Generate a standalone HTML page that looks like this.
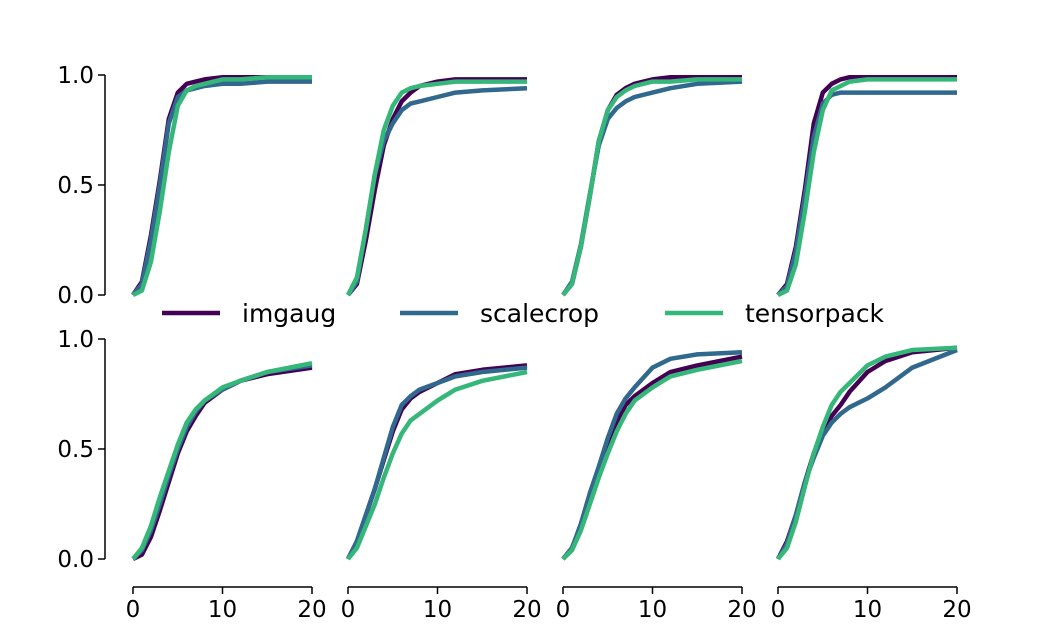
<!DOCTYPE html>
<html><head><meta charset="utf-8"><style>
body{margin:0;background:#fff}
svg text{font-family:"DejaVu Sans","Liberation Sans",sans-serif;fill:#000}
</style></head><body>
<svg id="chart" width="1064" height="628" xmlns="http://www.w3.org/2000/svg"></svg>
<script>
const xs = [0,1,2,3,4,5,6,7,8,10,12,15,20];
const seriesNames = ["imgaug","scalecrop","tensorpack"];
const colors = ["#440154","#31688e","#35b779"];
const yTicks = [0,0.5,1];
const yTickLabels = ["0.0","0.5","1.0"];
const xTicks = [0,10,20];
const p1 = [[0,0.06,0.27,0.52,0.8,0.92,0.96,0.97,0.98,0.99,0.99,0.99,0.99],
            [0,0.05,0.25,0.5,0.78,0.9,0.93,0.94,0.95,0.96,0.96,0.97,0.97],
            [0,0.02,0.15,0.38,0.65,0.86,0.93,0.95,0.96,0.98,0.98,0.99,0.99]];
const p2 = [[0,0.05,0.25,0.48,0.68,0.8,0.88,0.92,0.95,0.97,0.98,0.98,0.98],
            [0,0.06,0.3,0.55,0.7,0.78,0.84,0.87,0.88,0.9,0.92,0.93,0.94],
            [0,0.08,0.3,0.55,0.75,0.86,0.92,0.94,0.95,0.96,0.97,0.97,0.97]];
const p3 = [[0,0.05,0.22,0.45,0.7,0.84,0.91,0.94,0.96,0.98,0.99,0.99,0.99],
            [0,0.06,0.23,0.46,0.68,0.8,0.85,0.88,0.9,0.92,0.94,0.96,0.97],
            [0,0.05,0.22,0.45,0.7,0.84,0.9,0.93,0.95,0.97,0.97,0.98,0.98]];
const p4 = [[0,0.05,0.22,0.48,0.78,0.92,0.96,0.98,0.99,0.99,0.99,0.99,0.99],
            [0,0.04,0.2,0.45,0.72,0.87,0.91,0.92,0.92,0.92,0.92,0.92,0.92],
            [0,0.02,0.14,0.38,0.65,0.84,0.93,0.95,0.97,0.98,0.98,0.98,0.98]];
const p5 = [[0,0.02,0.1,0.22,0.35,0.48,0.58,0.65,0.71,0.77,0.81,0.84,0.87],
            [0,0.04,0.13,0.25,0.38,0.5,0.6,0.67,0.72,0.77,0.81,0.85,0.88],
            [0,0.05,0.15,0.28,0.4,0.52,0.62,0.68,0.72,0.78,0.81,0.85,0.89]];
const p6 = [[0,0.08,0.2,0.32,0.45,0.58,0.68,0.73,0.76,0.8,0.84,0.86,0.88],
            [0,0.08,0.2,0.32,0.46,0.6,0.7,0.74,0.77,0.8,0.83,0.85,0.87],
            [0,0.05,0.15,0.25,0.37,0.48,0.57,0.63,0.66,0.72,0.77,0.81,0.85]];
const p7 = [[0,0.05,0.15,0.28,0.4,0.52,0.62,0.7,0.74,0.8,0.85,0.88,0.92],
            [0,0.05,0.16,0.3,0.42,0.55,0.66,0.73,0.78,0.87,0.91,0.93,0.94],
            [0,0.04,0.13,0.25,0.37,0.48,0.58,0.66,0.72,0.78,0.83,0.86,0.9]];
const p8 = [[0,0.08,0.2,0.35,0.48,0.58,0.65,0.7,0.76,0.85,0.9,0.94,0.96],
            [0,0.07,0.2,0.35,0.46,0.56,0.62,0.66,0.69,0.73,0.78,0.87,0.95],
            [0,0.05,0.17,0.33,0.48,0.6,0.7,0.76,0.8,0.88,0.92,0.95,0.96]];
const panels = [p1,p2,p3,p4,p5,p6,p7,p8];

const svg = document.getElementById('chart');
const NS = "http://www.w3.org/2000/svg";
function mk(tag, attrs){const e=document.createElementNS(NS,tag);for(const k in attrs)e.setAttribute(k,attrs[k]);svg.appendChild(e);return e;}
const colX0 = [133,348,563,778], colW = 179;
const rowTop = [75,339], rowH = 220;
function sx(c,v){return colX0[c]+v/20*colW;}
function sy(r,v){return rowTop[r]+rowH-v*rowH;}

panels.forEach((p,i)=>{
  const r = Math.floor(i/4), c = i%4;
  p.forEach((vals,s)=>{
    const pts = xs.map((x,k)=>sx(c,x).toFixed(1)+","+sy(r,vals[k]).toFixed(1)).join(" ");
    const pl = mk('polyline',{points:pts,fill:'none',stroke:colors[s],'stroke-width':4.5,'stroke-linejoin':'round'});
    
    
  });
});
[0,1].forEach(r=>{
  const ax = mk('line',{x1:105,x2:105,y1:sy(r,1),y2:sy(r,0),stroke:'#000','stroke-width':1.5});
  
  
  yTicks.forEach((t,k)=>{
    const y=sy(r,t);
    const tk=mk('line',{x1:98,x2:105,y1:y,y2:y,stroke:'#000','stroke-width':1.5});
    
    
    const tx=mk('text',{x:94,y:y+8,'text-anchor':'end','font-size':23});
    tx.textContent=yTickLabels[k];
    
    
  });
});
[0,1,2,3].forEach(c=>{
  const ax=mk('line',{x1:sx(c,0),x2:sx(c,20),y1:587,y2:587,stroke:'#000','stroke-width':1.5});
  
  
  xTicks.forEach(t=>{
    const x=sx(c,t);
    const tk=mk('line',{x1:x,x2:x,y1:587,y2:594,stroke:'#000','stroke-width':1.5});
    
    
    const tx=mk('text',{x:x,y:617,'text-anchor':'middle','font-size':23});
    tx.textContent=String(t);
    
    
  });
});
const legX=[162,400,665];
seriesNames.forEach((n,s)=>{
  const l=mk('line',{x1:legX[s],x2:legX[s]+58,y1:313,y2:313,stroke:colors[s],'stroke-width':4.5});
  
  
  const t=mk('text',{x:legX[s]+80,y:322,'font-size':25});
  t.textContent=n;
  
  
});
</script>
</body></html>
